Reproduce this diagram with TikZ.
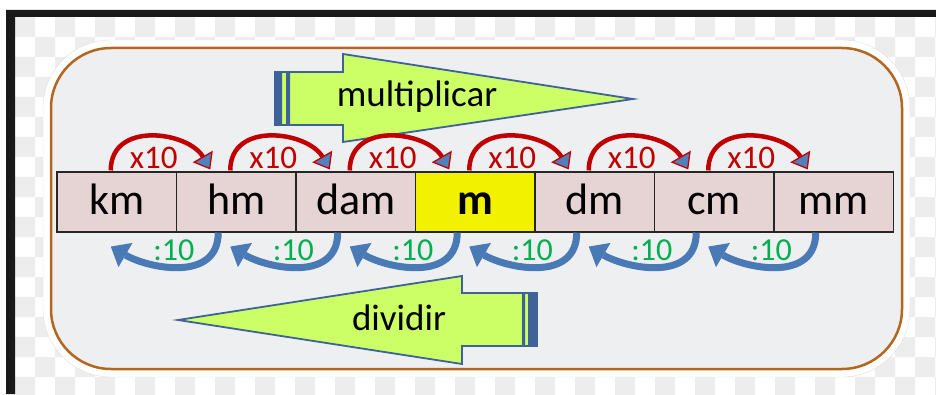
\documentclass[tikz,border=0pt]{standalone}
\usepackage{fontspec}
\setmainfont{Carlito}
\usetikzlibrary{arrows.meta,positioning,calc}
\definecolor{rimbrown}{HTML}{B4661F}
\definecolor{panelgray}{HTML}{EEEFF1}
\definecolor{cellrose}{HTML}{E6D4D4}
\definecolor{cellyel}{HTML}{F2F200}
\definecolor{mulred}{HTML}{C00000}
\definecolor{divblue}{HTML}{4A7AB5}
\definecolor{tipblue}{HTML}{4F81BD}
\definecolor{limegreen}{HTML}{CCFF66}
\definecolor{edgeblue}{HTML}{3E6299}
\definecolor{labgreen}{HTML}{00B050}
\definecolor{chk}{HTML}{EDEDED}
\tikzset{cell/.style={draw=black!85,line width=1.1pt,minimum width=119.5pt,minimum height=60pt,
    inner sep=0pt,text height=28pt,text depth=2pt,font=\fontsize{44}{44}\selectfont},
  mul/.style={mulred,line width=4.5pt,-{Triangle[length=15pt,width=23pt,fill=tipblue,line width=1.3pt 0]}},
  dvd/.style={divblue,line width=7pt,-{Triangle[length=17pt,width=28pt,line width=0pt 0]}},
  bigarrow/.style={draw=edgeblue,line width=1.8pt,fill=limegreen,line join=miter},
  bigtxt/.style={font=\fontsize{37}{37}\selectfont,anchor=base},
  xlab/.style={mulred,font=\fontsize{33}{33}\selectfont,anchor=base},
  dlab/.style={labgreen,font=\fontsize{32}{32}\selectfont,anchor=base}}
\begin{document}
\begin{tikzpicture}[x=1pt,y=1pt]
\useasboundingbox (0,0) rectangle (936,394);
% checker backdrop and frame
\begin{scope}
\clip (15,0) rectangle (936,377);
\foreach \i in {0,2,...,46} {
  \foreach \j in {0,2,...,18} {
    \fill[chk] ({15+20*\i},{377-20*\j}) rectangle ++(20,-20)
      ({35+20*\i},{357-20*\j}) rectangle ++(20,-20);}}
\end{scope}
\fill[black!90] (6,0) rectangle (15,384) (6,377) rectangle (936,384);
% panel
\draw[draw=gray!25,fill=white,rounded corners=68pt] (43,17) rectangle (910,354);
\draw[rimbrown,line width=2.5pt,fill=panelgray,rounded corners=60pt] (51,25) rectangle (902,346);
% big arrows
\draw[bigarrow] (275,269) -- (275,322) -- (343,322) -- (343,340) -- (633,295) -- (343,252) -- (343,269) -- cycle;
\fill[edgeblue] (275,269) rectangle (282,322) (286,269) rectangle (290,322);
\node[bigtxt] (multxt) at (417,287) {multiplicar};
\draw[bigarrow] (537,48) -- (537,101) -- (462,101) -- (462,118) -- (178,74) -- (462,30) -- (462,48) -- cycle;
\fill[edgeblue] (528,48) rectangle (537,101) (522,48) rectangle (525,101);
\node[bigtxt] (divtxt) at (399,64) {dividir};
% units
\foreach \u/\f/\t [count=\k] in {km/cellrose/km,hm/cellrose/hm,dam/cellrose/dam,m/cellyel/\textbf{m},
    dm/cellrose/dm,cm/cellrose/cm,mm/cellrose/mm}
  \node[cell,fill=\f] (\u) at ({57+119.5*(\k-0.5)},192) {\t};
% x10 above, :10 below
\foreach \a/\b in {km/hm,hm/dam,dam/m,m/dm,dm/cm,cm/mm} {
  \draw[mul] ([xshift=-6pt,yshift=1pt]\a.north) .. controls +(0,50) and +(-22,38) .. ([xshift=-26pt,yshift=2pt]\b.north);
  \node[xlab] at ([xshift=37pt,yshift=3pt]\a.north) {x10};
  \draw[dvd] ([xshift=-18pt]\b.south) .. controls +(0,-50) and +(38,-22) .. ([xshift=-6pt,yshift=-14pt]\a.south);
  \node[dlab] at ([xshift=57pt,yshift=-28pt]\a.south) {:10};
}
\end{tikzpicture}
\end{document}
